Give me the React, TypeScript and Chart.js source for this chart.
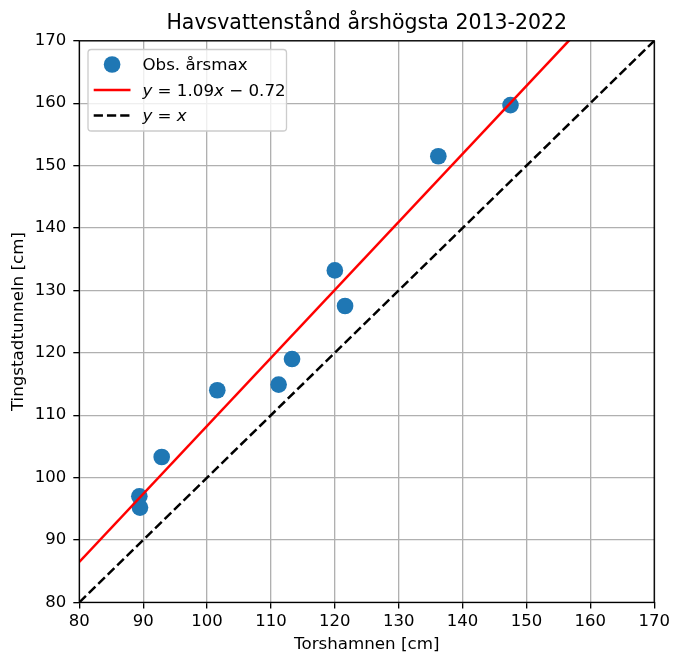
import React, { useEffect, useRef } from 'react';
import { Chart, registerables } from 'chart.js';
Chart.register(...registerables);

const obsX = [89.4, 89.5, 92.9, 101.6, 111.2, 113.3, 120.0, 121.6, 136.2, 147.5];
const obsY = [97.0, 95.2, 103.3, 114.0, 114.9, 119.0, 133.2, 127.5, 151.5, 159.7];
const fitSlope = 1.09;
const fitIntercept = -0.72;
const axisMin = 80;
const axisMax = 170;
const tickStep = 10;
const titleText = 'Havsvattenstånd årshögsta 2013-2022';
const xLabel = 'Torshamnen [cm]';
const yLabel = 'Tingstadtunneln [cm]';
const legendLabels = ['Obs. årsmax', 'y = 1.09x − 0.72', 'y = x'];
const legendIsMath = [false, true, true];

const FONT = '"DejaVu Sans"';

export default function App() {
  const ref = useRef<HTMLCanvasElement>(null);
  useEffect(() => {
    const canvas = ref.current!;
    Chart.defaults.font.family = FONT;
    Chart.defaults.color = '#000';

    const spinesLegend = {
      id: 'spinesLegend',
      afterDraw(chart: any) {
        const { ctx, chartArea: a } = chart;
        ctx.save();
        ctx.strokeStyle = '#000';
        ctx.lineWidth = 1.33;
        ctx.strokeRect(a.left, a.top, a.right - a.left, a.bottom - a.top);

        const bx = a.left + 8.7, by = a.top + 8.7, bw = 198.5, bh = 81.5;
        ctx.beginPath();
        (ctx as any).roundRect(bx, by, bw, bh, 3.3);
        ctx.fillStyle = 'rgba(255,255,255,0.8)';
        ctx.fill();
        ctx.strokeStyle = '#cccccc';
        ctx.lineWidth = 1.33;
        ctx.stroke();

        const rows = [by + 15, by + 40.5, by + 66];
        const hx0 = bx + 5.7, hx1 = bx + 42.5, tx = bx + 54.4;
        const ds = chart.data.datasets;
        legendLabels.forEach((label, i) => {
          const y = rows[i];
          const d = ds[i];
          ctx.save();
          if (i === 0) {
            ctx.beginPath();
            ctx.arc((hx0 + hx1) / 2, y, d.pointRadius, 0, Math.PI * 2);
            ctx.fillStyle = d.backgroundColor;
            ctx.fill();
          } else {
            ctx.beginPath();
            ctx.moveTo(hx0, y);
            ctx.lineTo(hx1, y);
            ctx.strokeStyle = d.borderColor;
            ctx.lineWidth = d.borderWidth;
            ctx.setLineDash(d.borderDash || []);
            ctx.stroke();
          }
          ctx.restore();
          ctx.fillStyle = '#000';
          ctx.textBaseline = 'alphabetic';
          ctx.textAlign = 'left';
          let x = tx;
          const base = y + 5.6;
          if (!legendIsMath[i]) {
            ctx.font = `16.7px ${FONT}`;
            ctx.fillText(label, x, base);
          } else {
            for (const ch of label) {
              const it = ch === 'x' || ch === 'y';
              ctx.font = `${it ? 'italic ' : ''}16.7px ${FONT}`;
              ctx.fillText(ch, x, base);
              x += ctx.measureText(ch).width;
            }
          }
        });
        ctx.restore();
      },
    };

    const fit = (x: number) => fitSlope * x + fitIntercept;

    const chart = new Chart(canvas, {
      type: 'scatter',
      data: {
        datasets: [
          {
            label: legendLabels[0],
            data: obsX.map((x, i) => ({ x, y: obsY[i] })),
            backgroundColor: '#1f77b4',
            borderWidth: 0,
            pointRadius: 8.33,
            pointHoverRadius: 8.33,
            order: 3,
          } as any,
          {
            label: legendLabels[1],
            data: [
              { x: axisMin, y: fit(axisMin) },
              { x: axisMax, y: fit(axisMax) },
            ],
            showLine: true,
            borderColor: 'red',
            borderWidth: 2.5,
            pointRadius: 0,
            clip: 0,
            order: 2,
          } as any,
          {
            label: legendLabels[2],
            data: [
              { x: axisMin, y: axisMin },
              { x: axisMax, y: axisMax },
            ],
            showLine: true,
            borderColor: '#000',
            borderWidth: 2.5,
            borderDash: [9.25, 4],
            pointRadius: 0,
            clip: 0,
            order: 1,
          } as any,
        ],
      },
      options: {
        responsive: false,
        animation: false,
        events: [],
        layout: { padding: { left: 0, right: 17.5, top: 0, bottom: 0 } },
        plugins: {
          legend: { display: false },
          tooltip: { enabled: false },
          title: {
            display: true,
            fullSize: false,
            text: titleText,
            color: '#000',
            font: { family: FONT, size: 20.5, weight: 'normal', lineHeight: 1.2 },
            padding: { top: 11.1, bottom: 5.1 },
          },
        },
        scales: {
          x: {
            type: 'linear',
            min: axisMin,
            max: axisMax,
            ticks: {
              stepSize: tickStep,
              color: '#000',
              font: { family: FONT, size: 16.5 },
              padding: 3,
              maxRotation: 0,
            },
            grid: { color: '#b0b0b0', lineWidth: 1.33, tickColor: '#000', tickLength: 6, tickWidth: 1.33 },
            border: { display: false },
            title: {
              display: true,
              text: xLabel,
              color: '#000',
              font: { family: FONT, size: 16.7, lineHeight: 1 },
              padding: { top: 0, bottom: 0 },
            },
            afterFit: (s: any) => { s.height = 50.6; },
          },
          y: {
            type: 'linear',
            min: axisMin,
            max: axisMax,
            ticks: {
              stepSize: tickStep,
              color: '#000',
              font: { family: FONT, size: 16.5 },
              padding: 7,
            },
            grid: { color: '#b0b0b0', lineWidth: 1.33, tickColor: '#000', tickLength: 6, tickWidth: 1.33 },
            border: { display: false },
            title: {
              display: true,
              text: yLabel,
              color: '#000',
              font: { family: FONT, size: 16.7, lineHeight: 1 },
              padding: { top: 9.85, bottom: 0 },
            },
            afterFit: (s: any) => { s.width = 79.3; },
          },
        },
      } as any,
      plugins: [spinesLegend],
    });
    return () => chart.destroy();
  }, []);

  return (
    <div style={{ position: 'absolute', left: 0, top: 0, width: 673, height: 653, background: '#fff' }}>
      <canvas ref={ref} width={673} height={653} style={{ display: 'block', width: 673, height: 653 }} />
    </div>
  );
}
